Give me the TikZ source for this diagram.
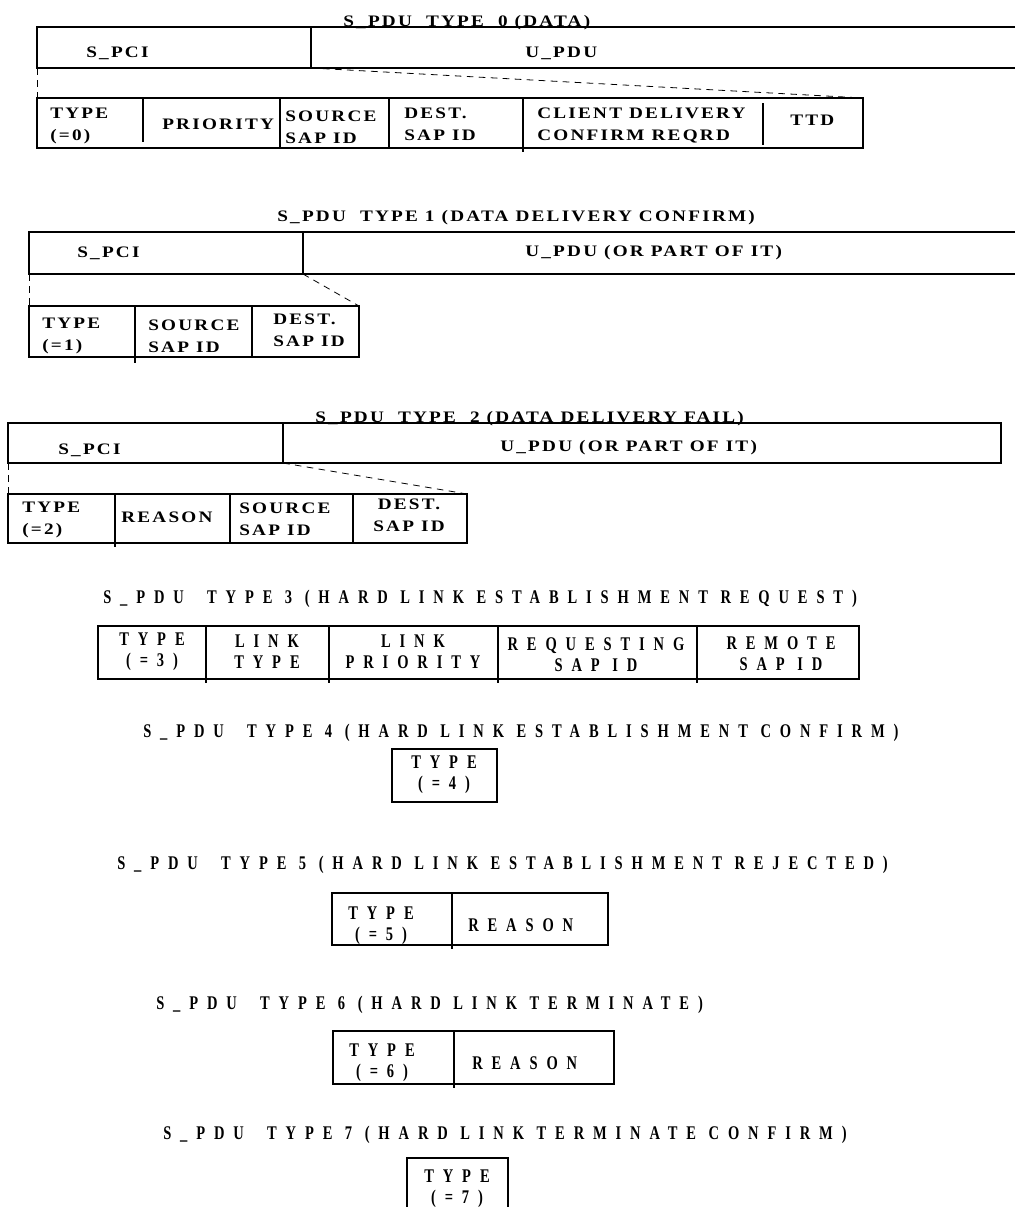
\documentclass[tikz,border=0pt]{standalone}
\usepackage{fontspec}
\setmainfont{Liberation Serif}
\newfontfamily\pcifont[LetterSpace=14,FakeStretch=1.2]{Liberation Serif}
\newfontfamily\linkfont[LetterSpace=46,FakeStretch=0.75]{Liberation Serif}
\usetikzlibrary{positioning}

\tikzset{
  frame/.style={line width=1.2pt},
  guide/.style={line width=0.6pt, dash pattern=on 5pt off 4pt},
  fld/.style={font=\pcifont\bfseries\fontsize{12}{16.5}\selectfont, inner sep=0pt, anchor=west, align=left},
  hdr/.style={fld, anchor=base west},
  lfld/.style={font=\linkfont\bfseries\fontsize{14.5}{16}\selectfont, inner sep=0pt, align=center},
  lhdr/.style={lfld, anchor=west},
}

\begin{document}
\begin{tikzpicture}[x=0.75pt, y=-0.75pt]
  \useasboundingbox[fill=white] (0,0) rectangle (1015,1207);

  % --- S_PDU type 0: data ---
  \draw[frame] (1015,27) -- (37,27) -- (37,68) -- (1015,68);
  \draw[frame] (311,27) -- (311,68);
  \node[hdr] (title0) at (343,26) {S\_PDU\ \ TYPE\ \ 0 (DATA)};
  \node[fld] (pci0) at (86,53) {S\_PCI};
  \node[fld] (upd0) at (525,53) {U\_PDU};
  \coordinate (pci0sw) at (37,68);
  \coordinate (pci0se) at (311,68);
  % detail row
  \draw[frame] (37,98) rectangle (863,148);
  \coordinate (det0nw) at (37,98);
  \coordinate (det0ne) at (863,98);
  \draw[frame] (143,98) -- (143,142);
  \draw[frame] (280,98) -- (280,148);
  \draw[frame] (389,98) -- (389,148);
  \draw[frame] (523,98) -- (523,152);
  \draw[frame] (763,103) -- (763,145);
  \node[fld] (ty0) at (50,126) {TYPE\\(=0)};
  \node[fld] (pri0) at (162,124) {PRIORITY};
  \node[fld] (src0) at (285,127) {SOURCE\\SAP ID};
  \node[fld] (dst0) at (404,124) {DEST.\\SAP ID};
  \node[fld] (cdc0) at (537,125.5) {CLIENT DELIVERY\\CONFIRM REQRD};
  \node[fld] (ttd0) at (790,120) {TTD};
  \draw[guide] (pci0sw) -- (det0nw);
  \draw[guide] (pci0se) -- (det0ne);

  % --- S_PDU type 1: data delivery confirm ---
  \node[hdr] (title1) at (277,221) {S\_PDU\ \ TYPE 1 (DATA DELIVERY CONFIRM)};
  \draw[frame] (1015,232) -- (29,232) -- (29,274) -- (1015,274);
  \draw[frame] (303,232) -- (303,274);
  \node[fld] (pci1) at (77,253) {S\_PCI};
  \node[fld] (upd1) at (525,253) {U\_PDU (OR PART OF IT)};
  \coordinate (pci1sw) at (29,274);
  \coordinate (pci1se) at (303,274);
  % detail row
  \draw[frame] (29,306) rectangle (359,357);
  \coordinate (det1nw) at (29,306);
  \coordinate (det1ne) at (359,306);
  \draw[frame] (135,306) -- (135,363);
  \draw[frame] (252,306) -- (252,357);
  \node[fld] (ty1) at (42,336) {TYPE\\(=1)};
  \node[fld] (src1) at (148,336) {SOURCE\\SAP ID};
  \node[fld] (dst1) at (273,330.5) {DEST.\\SAP ID};
  \draw[guide] (pci1sw) -- (det1nw);
  \draw[guide] (pci1se) -- (det1ne);

  % --- S_PDU type 2: data delivery fail ---
  \draw[frame] (8,423) rectangle (1001,463);
  \draw[frame] (283,423) -- (283,463);
  \node[hdr] (title2) at (315,422) {S\_PDU\ \ TYPE\ \ 2 (DATA DELIVERY FAIL)};
  \node[fld] (pci2) at (58,450) {S\_PCI};
  \node[fld] (upd2) at (500,448) {U\_PDU (OR PART OF IT)};
  \coordinate (pci2sw) at (8,463);
  \coordinate (pci2se) at (283,463);
  % detail row
  \draw[frame] (8,494) rectangle (467,543);
  \coordinate (det2nw) at (8,494);
  \coordinate (det2ne) at (467,494);
  \draw[frame] (115,494) -- (115,547);
  \draw[frame] (230,494) -- (230,543);
  \draw[frame] (353,494) -- (353,543);
  \node[fld] (ty2) at (22,520) {TYPE\\(=2)};
  \node[fld] (rsn2) at (121,517) {REASON};
  \node[fld] (src2) at (239,519) {SOURCE\\SAP ID};
  \node[fld, anchor=center, align=center] (dst2) at (409,515.5) {DEST.\\SAP ID};
  \draw[guide] (pci2sw) -- (det2nw);
  \draw[guide] (pci2se) -- (det2ne);

  % --- S_PDU type 3: hard link establishment request ---
  \node[lhdr] (title3) at (103,599) {S\_PDU\hspace{8pt} TYPE 3 (HARD LINK ESTABLISHMENT REQUEST)};
  \draw[frame] (98,626) rectangle (859,679);
  \draw[frame] (206,626) -- (206,683);
  \draw[frame] (329,626) -- (329,683);
  \draw[frame] (498,626) -- (498,683);
  \draw[frame] (697,626) -- (697,683);
  \node[lfld] (ty3) at (152,651.5) {TYPE\\(=3)};
  \node[lfld] (lt3) at (267,651.5) {LINK\\TYPE};
  \node[lfld] (lp3) at (413,651.5) {LINK\\PRIORITY};
  \node[lfld] (rq3) at (596,654.5) {REQUESTING\\SAP ID};
  \node[lfld] (rm3) at (781,654) {REMOTE\\SAP ID};

  % --- S_PDU type 4: hard link establishment confirm ---
  \node[lhdr] (title4) at (143,733) {S\_PDU\hspace{8pt} TYPE 4 (HARD LINK ESTABLISHMENT CONFIRM)};
  \draw[frame] (392,749) rectangle (497,802);
  \node[lfld] (ty4) at (444,775) {TYPE\\(=4)};

  % --- S_PDU type 5: hard link establishment rejected ---
  \node[lhdr] (title5) at (117,865) {S\_PDU\hspace{8pt} TYPE 5 (HARD LINK ESTABLISHMENT REJECTED)};
  \draw[frame] (332,893) rectangle (608,945);
  \draw[frame] (452,893) -- (452,949);
  \node[lfld] (ty5) at (381,926) {TYPE\\(=5)};
  \node[lhdr] (rsn5) at (468,925) {REASON};

  % --- S_PDU type 6: hard link terminate ---
  \node[lhdr] (title6) at (156,1005) {S\_PDU\hspace{8pt} TYPE 6 (HARD LINK TERMINATE)};
  \draw[frame] (333,1031) rectangle (614,1084);
  \draw[frame] (454,1031) -- (454,1088);
  \node[lfld] (ty6) at (382,1062.5) {TYPE\\(=6)};
  \node[lhdr] (rsn6) at (472,1063) {REASON};

  % --- S_PDU type 7: hard link terminate confirm ---
  \node[lhdr] (title7) at (163,1135) {S\_PDU\hspace{8pt} TYPE 7 (HARD LINK TERMINATE CONFIRM)};
  \draw[frame] (407,1207) -- (407,1158) -- (508,1158) -- (508,1207);
  \node[lfld] (ty7) at (457,1189) {TYPE\\(=7)};
\end{tikzpicture}
\end{document}
